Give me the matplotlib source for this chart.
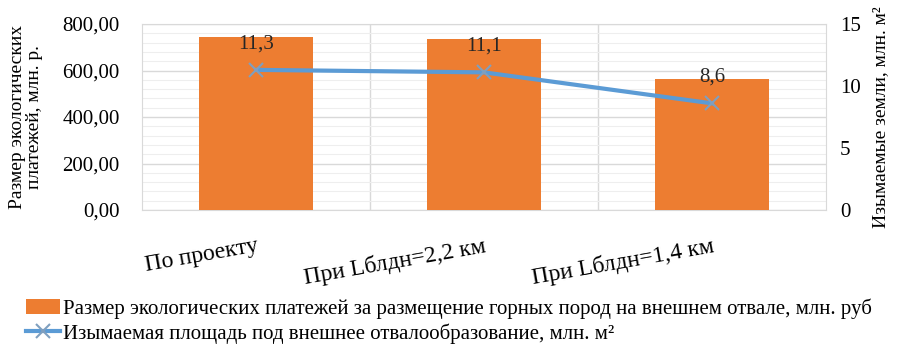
import numpy as np
import matplotlib
matplotlib.use('Agg')
import matplotlib.pyplot as plt
from matplotlib.ticker import MultipleLocator, FuncFormatter

F = 'Liberation Serif'
plt.rcParams['font.family'] = 'serif'
plt.rcParams['font.serif'] = [F, 'DejaVu Serif']

# data
categories = ['По проекту', 'При Lблдн=2,2 км', 'При Lблдн=1,4 км']
payments = [744, 735, 563]          # млн. руб (left axis)
area = [11.3, 11.1, 8.6]            # млн. м2 (right axis)
area_labels = ['11,3', '11,1', '8,6']

bar_color = '#ED7D31'
line_color = '#5B9BD5'

fig = plt.figure(figsize=(9.03, 3.5), dpi=100)
ax = fig.add_axes([142 / 903, 1 - 210 / 350, (826 - 142) / 903, 186 / 350])
x = np.arange(len(categories))

ax.bar(x, payments, width=0.5, color=bar_color, zorder=3,
       label='Размер экологических платежей за размещение горных пород на внешнем отвале, млн. руб')
ax.set_xlim(-0.5, len(categories) - 0.5)
ax.set_ylim(0, 800)
ax.yaxis.set_major_locator(MultipleLocator(200))
ax.yaxis.set_minor_locator(MultipleLocator(40))
ax.yaxis.set_major_formatter(FuncFormatter(lambda v, p: f'{v:.2f}'.replace('.', ',')))
ax.grid(axis='y', which='major', color='#d9d9d9', lw=1, zorder=0)
ax.grid(axis='y', which='minor', color='#eeeeee', lw=0.8, zorder=0)
for b in [0.5, 1.5]:
    ax.axvline(b, color='#d9d9d9', lw=1, zorder=0)
ax.set_xticks(x)
ax.set_xticklabels(categories, rotation=10, fontsize=17, ha='right', va='top',
                   rotation_mode='anchor', family=F)
ax.tick_params(axis='x', length=0, pad=18)
ax.tick_params(axis='y', which='both', length=0, labelsize=15, pad=16)
for lbl in ax.get_yticklabels():
    lbl.set_family(F)
for s in ax.spines.values():
    s.set_color('#d9d9d9')
ax.set_ylabel('Размер экологических\nплатежей, млн. р.', fontsize=14, linespacing=1.0,
              labelpad=14, family=F)

ax2 = ax.twinx()
ax2.plot(x, area, color=line_color, lw=3, marker='x', markersize=10,
         markeredgewidth=1.5, markeredgecolor='#7f9fbf', zorder=4,
         label='Изымаемая площадь под внешнее отвалообразование, млн. м²')
for xi, yi, t in zip(x, area, area_labels):
    ax2.annotate(t, (xi, yi), xytext=(0, 12), textcoords='offset points',
                 ha='center', va='bottom', fontsize=15, color='#262626', family=F)
ax2.set_ylim(0, 15)
ax2.yaxis.set_major_locator(MultipleLocator(5))
ax2.tick_params(axis='y', length=0, labelsize=15, pad=10)
for lbl in ax2.get_yticklabels():
    lbl.set_family(F)
for s in ax2.spines.values():
    s.set_visible(False)
ax2.set_ylabel('Изымаемые земли, млн. м²', fontsize=14, labelpad=8, family=F)

h1, l1 = ax.get_legend_handles_labels()
h2, l2 = ax2.get_legend_handles_labels()
fig.legend(h1 + h2, l1 + l2, loc='upper left', bbox_to_anchor=(18 / 903, 1 - 290 / 350),
           frameon=False, prop={'family': F, 'size': 15}, handlelength=1.6,
           handletextpad=0.15, labelspacing=0.2, borderaxespad=0)

fig.savefig('out.png', dpi=100)
